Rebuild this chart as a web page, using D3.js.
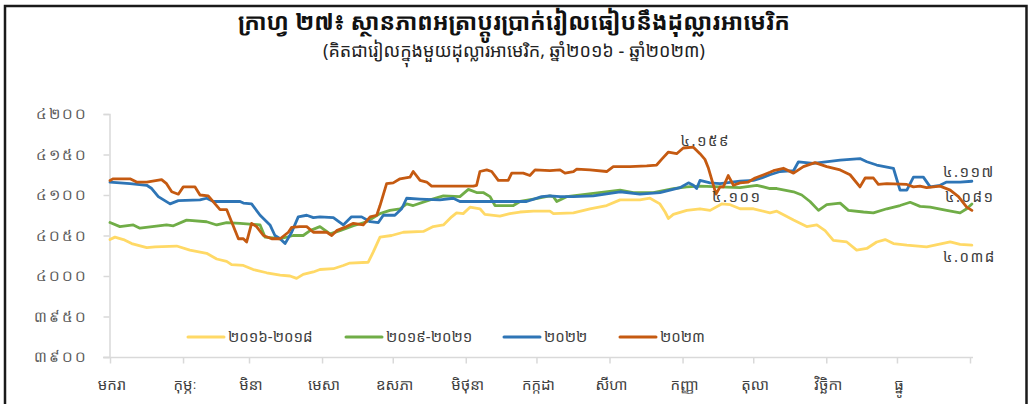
<!DOCTYPE html>
<html>
<head>
<meta charset="utf-8">
<script src="https://cdn.jsdelivr.net/npm/d3@7"></script>
<style>
  body { margin: 0; background: #fff; }
  svg { display: block; font-family: "Noto Sans Khmer", "Khmer OS", "Noto Sans", "DejaVu Sans", sans-serif; }
</style>
</head>
<body>
<div id="chart"></div>
<script>
// months (x axis) and the y ticks
const months = ["មករា", "កុម្ភៈ", "មិនា", "មេសា", "ឧសភា", "មិថុនា", "កក្កដា", "សីហា", "កញ្ញា", "តុលា", "វិច្ឆិកា", "ធ្នូ"];
const monthStart = [0, 31, 59, 90, 120, 151, 181, 212, 243, 273, 304, 334, 365];
const yTicks = [3900, 3950, 4000, 4050, 4100, 4150, 4200];

// series: [day of year, riel per dollar]
const avg2016_2018 = [[0,4045],[2.1,4048],[5.7,4045],[9.2,4040],[15.6,4035],[19.1,4036],[28.3,4037],[33.9,4032],[41,4028],[45.3,4021],[49.5,4018],[51.6,4014],[56.6,4013],[60.8,4008],[66.5,4004],[72.2,4001],[76.4,4000],[79.2,3997],[82,4002],[86.3,4005],[89.1,4008],[94.8,4009],[99,4013],[101.8,4016],[109.6,4017],[111.8,4030],[114.6,4048],[119.5,4050],[124.5,4054],[133,4055],[137.2,4061],[141.5,4063],[145,4073],[147.1,4078],[149.9,4077],[152.8,4085],[157,4083],[159.1,4076],[165.5,4074],[169.7,4077],[174,4079],[179.7,4080],[186.7,4080],[188.2,4077],[196.7,4078],[203.7,4083],[210.8,4087],[216.5,4094],[224.9,4094],[229.2,4096],[233.4,4089],[235.6,4079],[237,4071],[239.1,4076],[244.8,4081],[250.4,4083],[254.7,4081],[259.6,4089],[263.2,4088],[267.4,4083],[273.1,4083],[280.1,4078],[283,4080],[290.1,4069],[295.7,4061],[300,4063],[303.5,4056],[307,4044],[312.7,4042],[316.9,4032],[321.2,4034],[325.4,4042],[329,4045],[332.5,4040],[338.2,4038],[346.6,4036],[356.6,4042],[360.8,4039],[365.8,4038]];
const avg2019_2021 = [[0,4066],[4.2,4061],[9.9,4063],[12.7,4059],[24,4063],[26.9,4062],[32.5,4069],[41,4067],[45.3,4063],[49.5,4066],[55.2,4065],[63.7,4063],[65.8,4048],[72.2,4046],[77.8,4050],[82,4050],[84.9,4056],[89.1,4061],[93.4,4052],[97.6,4056],[103.3,4062],[108.9,4067],[114.6,4077],[118.8,4081],[123.1,4083],[125.9,4089],[128.7,4087],[135.8,4094],[141.5,4099],[148.5,4098],[152.1,4107],[155.6,4103],[158.4,4103],[161.3,4098],[163.4,4087],[166.2,4087],[171.2,4087],[174,4092],[179.7,4095],[186.7,4099],[188.2,4098],[189.6,4092],[193.8,4098],[205.1,4102],[216.5,4106],[222.1,4103],[230.6,4103],[239.1,4108],[244.8,4110],[250.4,4111],[258.9,4110],[267.4,4109],[274.5,4112],[280.1,4108],[283,4108],[290.1,4104],[293.6,4100],[297.1,4092],[300.7,4081],[304.2,4088],[309.9,4090],[313.4,4081],[319.8,4079],[324,4078],[329.7,4083],[335.3,4087],[339.6,4091],[343.8,4086],[348.1,4085],[355.1,4081],[360.8,4078],[363.6,4083],[365.8,4089]];
const y2022 = [[0,4116],[8.5,4114],[15.6,4112],[17.7,4108],[20.5,4098],[25.5,4089],[29,4093],[38.2,4094],[41,4096],[43.9,4092],[55.2,4092],[56.6,4090],[60.1,4089],[63.7,4075],[67.9,4063],[70,4050],[72.2,4046],[74.3,4040],[77.1,4054],[79.9,4073],[83.5,4075],[86.3,4072],[89.1,4073],[94.8,4072],[99,4063],[102.5,4073],[106.8,4073],[110.4,4067],[113.9,4066],[116,4075],[120.9,4075],[123.8,4083],[125.9,4096],[131.6,4095],[140,4094],[145.7,4096],[148.5,4092],[159.9,4092],[176.8,4092],[183.2,4098],[186.7,4099],[191,4098],[196.7,4098],[205.1,4099],[216.5,4104],[224.9,4101],[233.4,4103],[241.9,4109],[245.5,4115],[247.6,4112],[249,4108],[250.4,4118],[254.7,4115],[258.9,4114],[267.4,4117],[273.1,4118],[276.6,4121],[280.1,4125],[284.4,4129],[290.1,4130],[292.2,4141],[298.5,4139],[309.9,4143],[318.3,4145],[321.2,4141],[325.4,4137],[332.5,4133],[335.3,4106],[338.2,4106],[341,4122],[345.2,4122],[348.1,4110],[352.3,4112],[355.1,4116],[360.8,4116],[365.8,4117]];
const y2023 = [[0,4118],[1.4,4120],[8.5,4120],[11.3,4116],[15.6,4116],[21.9,4119],[24,4114],[26.2,4104],[29,4101],[31.1,4110],[36.1,4110],[38.2,4100],[41.7,4099],[44.6,4089],[46.7,4082],[49.5,4082],[51.6,4067],[54.5,4046],[56.6,4046],[58,4042],[60.1,4065],[62.2,4061],[65.1,4050],[68.6,4046],[72.2,4046],[75.7,4054],[77.1,4060],[80.6,4061],[83.5,4061],[86.3,4054],[92,4054],[94.1,4050],[96.2,4056],[100.4,4061],[103.3,4065],[107.5,4063],[110.4,4073],[113.2,4075],[114.6,4087],[117.4,4114],[120.2,4115],[123.1,4120],[127.3,4122],[128.7,4129],[131.6,4118],[134.4,4116],[136.5,4111],[154.2,4111],[155.6,4112],[157,4129],[159.9,4131],[162,4129],[164.8,4118],[169,4118],[170.5,4127],[175.4,4127],[178.2,4124],[180.4,4131],[186.7,4130],[191,4131],[193.1,4127],[196.7,4129],[198.1,4132],[203.7,4131],[210.8,4129],[213.6,4135],[220.7,4135],[227.8,4136],[232,4137],[234.1,4144],[237,4153],[240.5,4151],[243.3,4158],[247.6,4159],[250.4,4151],[252.5,4144],[254,4133],[257.2,4101],[258.9,4110],[260.3,4110],[262.4,4124],[264.6,4112],[267.4,4115],[270.9,4116],[273.8,4121],[276.6,4124],[280.1,4128],[281.6,4130],[285.8,4133],[290.1,4127],[294.3,4135],[299.2,4140],[304.2,4135],[309.9,4131],[314.1,4125],[318.3,4110],[320.5,4121],[324,4121],[326.1,4113],[329.7,4114],[338.2,4113],[341,4110],[343.8,4111],[346.6,4109],[352.3,4111],[356.6,4106],[360.1,4098],[363.6,4085],[365.8,4081]];

const seriesNames = ["២០១៦-២០១៨", "២០១៩-២០២១", "២០២២", "២០២៣"];
const seriesData = [avg2016_2018, avg2019_2021, y2022, y2023];
const seriesColors = ["#FFD966", "#70AD47", "#2E75B6", "#C55A11"];

// value labels: series index, day, offset
const valueLabels = [
    { s: 3, day: 247.6, dx: -13, dy: -1 },
    { s: 3, day: 257.2, dx: -4, dy: 8 },
    { s: 2, day: 365.8, dx: -29, dy: -4 },
    { s: 3, day: 365.8, dx: -27, dy: -8 },
    { s: 0, day: 365.8, dx: -29, dy: 17 }
];

const width = 1028, height = 404;
const khmerDigits = "០១២៣៤៥៦៧៨៩";
const toKhmer = s => String(s).replace(/[0-9]/g, c => khmerDigits[+c]);
const fmtValue = v => toKhmer(Math.floor(v / 1000) + "." + String(v % 1000).padStart(3, "0"));
const pointAt = d => seriesData[d.s].find(p => p[0] === d.day);

const svg = d3.select("#chart").append("svg")
    .attr("width", width)
    .attr("height", height);

// frame
svg.append("path")
    .attr("d", "M5,404 V6 H1026.5 V404")
    .attr("fill", "none")
    .attr("stroke", "#1a1a1a")
    .attr("stroke-width", 2.5);

const x = d3.scaleLinear().domain([0, 365]).range([110, 970]);
const y = d3.scaleLinear().domain([3900, 4200]).range([357, 114]);

// title
svg.append("text")
    .attr("x", 514).attr("y", 30)
    .attr("text-anchor", "middle")
    .attr("font-size", 23).attr("font-weight", "bold")
    .attr("fill", "#111")
    .text("ក្រាហ្វ ២៧៖ ស្ថានភាពអត្រាប្តូរប្រាក់រៀលធៀបនឹងដុល្លារអាមេរិក");

svg.append("text")
    .attr("x", 514).attr("y", 57)
    .attr("text-anchor", "middle")
    .attr("font-size", 18)
    .attr("fill", "#222")
    .text("(គិតជារៀលក្នុងមួយដុល្លារអាមេរិក, ឆ្នាំ២០១៦ - ឆ្នាំ២០២៣)");

// y axis
const yAxis = svg.append("g")
    .attr("transform", "translate(109.5,0)")
    .call(d3.axisLeft(y).tickValues(yTicks).tickSize(6).tickPadding(16).tickFormat(toKhmer));
yAxis.selectAll("line, path").attr("stroke", "#d9d9d9").attr("stroke-width", 1.5);
yAxis.selectAll("text").attr("font-size", 15).attr("fill", "#595959")
    .attr("font-family", "inherit").attr("letter-spacing", 2);

// x axis
const xAxis = svg.append("g")
    .attr("transform", "translate(0,357.5)")
    .call(d3.axisBottom(x).tickValues(monthStart).tickSize(6).tickSizeOuter(0).tickFormat(""));
xAxis.selectAll("line, path").attr("stroke", "#d9d9d9").attr("stroke-width", 1.5);
xAxis.select(".domain").attr("d", "M103,0H973");

svg.append("g").selectAll("text")
    .data(months)
    .join("text")
    .attr("x", (d, i) => x(monthStart[i]) + 2)
    .attr("y", 390)
    .attr("text-anchor", "middle")
    .attr("font-size", 15)
    .attr("fill", "#404040")
    .text(d => d);

// lines
const line = d3.line()
    .x(d => x(d[0]))
    .y(d => y(d[1]));

svg.append("g").selectAll("path")
    .data(seriesData)
    .join("path")
    .attr("d", line)
    .attr("fill", "none")
    .attr("stroke", (d, i) => seriesColors[i])
    .attr("stroke-width", 2.8)
    .attr("stroke-linejoin", "round")
    .attr("stroke-linecap", "round");

// value labels
svg.append("g").selectAll("text")
    .data(valueLabels)
    .join("text")
    .attr("x", d => x(pointAt(d)[0]) + d.dx)
    .attr("y", d => y(pointAt(d)[1]) + d.dy)
    .attr("font-size", 15)
    .attr("fill", "#404040")
    .attr("letter-spacing", 1.5)
    .text(d => fmtValue(pointAt(d)[1]));

// legend
const legendX = [188, 346, 504, 620];
const legend = svg.append("g").selectAll("g")
    .data(seriesNames)
    .join("g")
    .attr("transform", (d, i) => `translate(${legendX[i]},337)`);
legend.append("line")
    .attr("x1", 0).attr("x2", 36)
    .attr("stroke", (d, i) => seriesColors[i])
    .attr("stroke-width", 3)
    .attr("stroke-linecap", "round");
legend.append("text")
    .attr("x", 40).attr("y", 5)
    .attr("font-size", 15)
    .attr("fill", "#404040")
    .text(d => d);
</script>
</body>
</html>
